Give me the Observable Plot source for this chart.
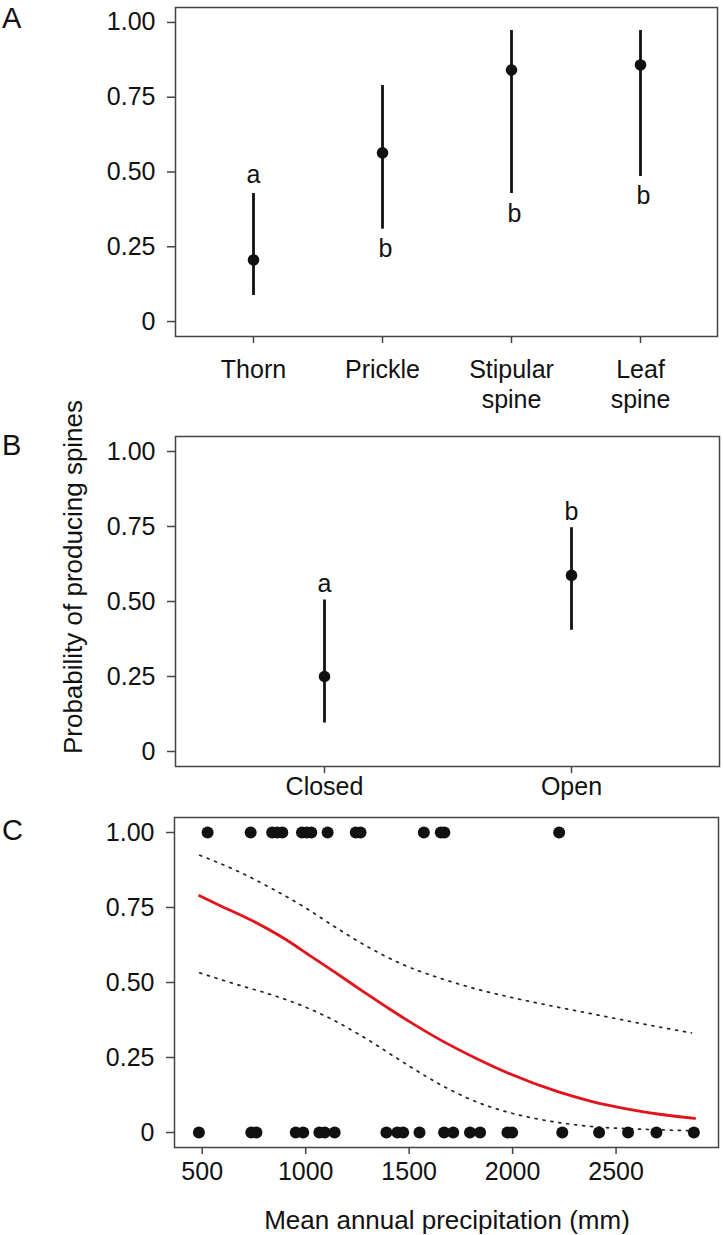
<!DOCTYPE html>
<html><head><meta charset="utf-8">
<script src="https://cdn.jsdelivr.net/npm/d3@7"></script>
<script src="https://cdn.jsdelivr.net/npm/@observablehq/plot@0.6"></script>
<style>
body{margin:0;background:#fff;}
#wrap{position:relative;width:723px;height:1235px;font-family:"Liberation Sans",Arial,Helvetica,sans-serif;overflow:hidden;background:#fff;}
.panel{position:absolute;left:0;}
.lab{position:absolute;left:2px;font-size:29px;color:#111;line-height:1;}
#ytitle{position:absolute;font-size:26px;white-space:nowrap;color:#111;line-height:1;left:73px;top:577px;transform:translate(-50%,-50%) rotate(-90deg);}
#xtitle{position:absolute;font-size:26px;white-space:nowrap;color:#111;line-height:1;left:447px;top:1220px;transform:translate(-50%,-50%);}
</style></head>
<body><div id="wrap"></div>
<script>
// ---- Panel A: spine type ----
const typesA = ["Thorn", "Prickle", "Stipular spine", "Leaf spine"];
const estA = [0.206, 0.564, 0.841, 0.858];
const lowA = [0.087, 0.309, 0.428, 0.485];
const highA = [0.428, 0.789, 0.973, 0.973];
const lettersA = ["a", "b", "b", "b"];
const sideA = ["above", "below", "below", "below"];

// ---- Panel B: habitat ----
const habitatsB = ["Closed", "Open"];
const estB = [0.25, 0.587];
const lowB = [0.095, 0.404];
const highB = [0.505, 0.746];
const lettersB = ["a", "b"];

// ---- Panel C: precipitation ----
const presentMM = [526, 734, 838, 862, 887, 982, 1005, 1027, 1106, 1242, 1265, 1571, 1653, 1670, 2225];
const absentMM = [484, 737, 762, 952, 988, 1066, 1092, 1140, 1390, 1443, 1471, 1550, 1669, 1713, 1794, 1843, 1975, 1998, 2240, 2418, 2558, 2695, 2876];
const fitMM = [487, 600, 750, 900, 1024, 1137, 1282, 1411, 1541, 1653, 1815, 1992, 2218, 2380, 2557, 2718, 2880];
const fitP = [0.789, 0.752, 0.703, 0.645, 0.588, 0.536, 0.468, 0.409, 0.353, 0.308, 0.250, 0.194, 0.136, 0.104, 0.078, 0.060, 0.047];
const ciMM = [488, 669, 831, 992, 1153, 1315, 1476, 1669, 1815, 1976, 2137, 2380, 2622, 2864];
const ciUpper = [0.924, 0.872, 0.815, 0.752, 0.680, 0.613, 0.558, 0.510, 0.480, 0.453, 0.429, 0.396, 0.363, 0.332];
const ciLower = [0.532, 0.493, 0.460, 0.420, 0.368, 0.303, 0.232, 0.153, 0.105, 0.068, 0.043, 0.020, 0.011, 0.006];

const yTicks = [0, 0.25, 0.5, 0.75, 1];
const xTicksC = [500, 1000, 1500, 2000, 2500];
const panelLetters = ["A", "B", "C"];
const yTitle = "Probability of producing spines";
const xTitleC = "Mean annual precipitation (mm)";

const FONT = "'Liberation Sans', Arial, Helvetica, sans-serif";
const fmtY = d => d === 0 ? "0" : d.toFixed(2);
const INK = "#111";
const GRID = "#444";
const FS = 25;

const dataA = typesA.map((t, i) => ({type: t, est: estA[i], low: lowA[i], high: highA[i], letter: lettersA[i], side: sideA[i]}));
const dataB = habitatsB.map((t, i) => ({type: t, est: estB[i], low: lowB[i], high: highB[i], letter: lettersB[i]}));
const pts = presentMM.map(v => ({mm: v, p: 1})).concat(absentMM.map(v => ({mm: v, p: 0})));
const fit = fitMM.map((v, i) => ({mm: v, p: fitP[i]}));
const up = ciMM.map((v, i) => ({mm: v, p: ciUpper[i]}));
const lo = ciMM.map((v, i) => ({mm: v, p: ciLower[i]}));

function yAxis() {
  return Plot.axisY({ticks: yTicks, tickFormat: fmtY, tickSize: 8, tickPadding: 12, stroke: GRID, strokeWidth: 1.5, fill: INK, fontSize: FS, label: null});
}
const baseStyle = {fontFamily: FONT, fontSize: FS + "px", background: "transparent", color: INK, overflow: "visible"};

const plotA = Plot.plot({
  width: 723, height: 410, marginTop: 7, marginBottom: 74, marginLeft: 175, marginRight: 6,
  style: baseStyle,
  x: {type: "point", domain: typesA, padding: 0.6},
  y: {domain: [-0.05, 1.05]},
  marks: [
    Plot.frame({stroke: GRID, strokeWidth: 1.5}),
    yAxis(),
    Plot.axisX({tickSize: 7, tickPadding: 13, stroke: GRID, strokeWidth: 1.5, fill: INK, fontSize: FS, lineHeight: 1.2, label: null, tickFormat: d => d.replace(" ", "\n")}),
    Plot.ruleX(dataA, {x: "type", y1: "low", y2: "high", stroke: INK, strokeWidth: 2.8}),
    Plot.dot(dataA, {x: "type", y: "est", r: 5.8, fill: INK}),
    Plot.text(dataA.filter(d => d.side === "above"), {x: "type", y: "high", text: "letter", dy: -19, fontSize: FS, fill: INK}),
    Plot.text(dataA.filter(d => d.side === "below"), {x: "type", y: "low", text: "letter", dy: 20, dx: 3, fontSize: FS, fill: INK})
  ]
});

const plotB = Plot.plot({
  width: 723, height: 390, marginTop: 26, marginBottom: 34, marginLeft: 175, marginRight: 4,
  style: baseStyle,
  x: {type: "point", domain: habitatsB, padding: 0.6},
  y: {domain: [-0.05, 1.05]},
  marks: [
    Plot.frame({stroke: GRID, strokeWidth: 1.5}),
    yAxis(),
    Plot.axisX({tickSize: 7, tickPadding: 4, stroke: GRID, strokeWidth: 1.5, fill: INK, fontSize: FS, label: null}),
    Plot.ruleX(dataB, {x: "type", y1: "low", y2: "high", stroke: INK, strokeWidth: 2.8}),
    Plot.dot(dataB, {x: "type", y: "est", r: 5.8, fill: INK}),
    Plot.text(dataB, {x: "type", y: "high", text: "letter", dy: -16, fontSize: FS, fill: INK})
  ]
});

const plotC = Plot.plot({
  width: 723, height: 435, marginTop: 17, marginBottom: 88, marginLeft: 174, marginRight: 5,
  style: baseStyle,
  x: {domain: [366, 2995]},
  y: {domain: [-0.05, 1.05]},
  marks: [
    Plot.frame({stroke: GRID, strokeWidth: 1.5}),
    yAxis(),
    Plot.axisX({ticks: xTicksC, tickFormat: d3.format("d"), tickSize: 7, tickPadding: 8, stroke: GRID, strokeWidth: 1.5, fill: INK, fontSize: FS, label: null}),
    Plot.line(up, {x: "mm", y: "p", stroke: "#222", strokeWidth: 1.7, strokeDasharray: "2,6", curve: "monotone-x"}),
    Plot.line(lo, {x: "mm", y: "p", stroke: "#222", strokeWidth: 1.7, strokeDasharray: "2,6", curve: "monotone-x"}),
    Plot.line(fit, {x: "mm", y: "p", stroke: "#e3121b", strokeWidth: 2.8, curve: "monotone-x"}),
    Plot.dot(pts, {x: "mm", y: "p", r: 6, fill: INK})
  ]
});

const wrap = document.getElementById("wrap");
[[plotA, 0], [plotB, 410], [plotC, 800]].forEach(([svg, top]) => {
  svg.classList.add("panel");
  svg.style.top = top + "px";
  svg.style.position = "absolute";
  wrap.appendChild(svg);
});
[[panelLetters[0], 4], [panelLetters[1], 431], [panelLetters[2], 816]].forEach(([t, top]) => {
  const d = document.createElement("div");
  d.className = "lab"; d.textContent = t; d.style.top = top + "px";
  wrap.appendChild(d);
});
const yt = document.createElement("div"); yt.id = "ytitle"; yt.textContent = yTitle; wrap.appendChild(yt);
const xt = document.createElement("div"); xt.id = "xtitle"; xt.textContent = xTitleC; wrap.appendChild(xt);
</script></body></html>
